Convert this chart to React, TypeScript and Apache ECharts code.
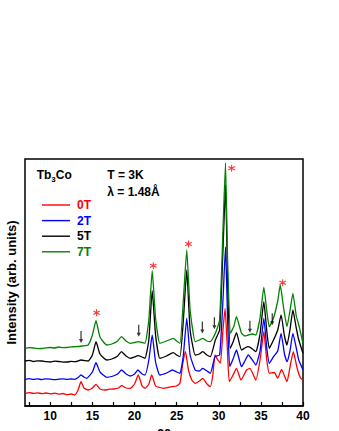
import React, { useEffect, useRef } from "react";
import * as echarts from "echarts";

const seriesNames = ["0T", "2T", "5T", "7T"];
const seriesColors = ["#ff0000", "#0000ff", "#000000", "#008000"];

// [2θ (deg), intensity (arb. units, offset curves)]
const data0T = [
  [7.0, 12.7], [7.5, 13.4], [8.0, 12.6], [8.5, 13.2], [9.0, 12.3], [9.5, 13.0], [10.0, 12.1], [10.5, 12.8],
  [11.0, 11.9], [11.5, 12.5], [12.0, 11.4], [12.5, 12.0], [12.9, 11.0], [13.3, 16], [13.65, 24.3], [14.0, 18],
  [14.5, 16], [15.0, 18], [15.43, 21.7], [15.9, 17], [16.5, 16], [17.0, 16.8], [17.5, 17], [18.1, 18],
  [18.48, 20.3], [19.0, 18], [19.5, 17.7], [20.0, 22], [20.45, 31], [20.9, 20], [21.25, 17.7], [21.7, 22],
  [22.04, 31], [22.5, 20], [23.0, 18.5], [23.4, 17.7], [24.0, 18.6], [24.4, 19.3], [25.0, 20], [25.4, 23],
  [25.7, 41], [26.05, 54.3], [26.4, 36], [26.8, 26], [27.2, 22.7], [27.7, 25], [28.1, 27.7], [28.6, 22],
  [29.0, 19.3], [29.3, 31], [29.55, 51], [29.9, 46], [30.2, 43], [30.5, 76], [30.75, 97.7], [31.0, 61],
  [31.25, 24.3], [31.7, 31], [32.1, 37.7], [32.64, 26], [33.3, 36], [33.7, 37.7], [34.4, 26], [34.9, 46],
  [35.35, 74.3], [35.7, 46], [36.0, 32.7], [36.6, 33.5], [37.0, 27.7], [37.45, 36.7], [38.1, 24.3], [38.5, 41],
  [38.85, 54.3], [39.3, 38], [39.7, 28], [40.0, 26],
];
const data2T = [
  [7.0, 26.7], [7.5, 27.3], [8.0, 26.6], [8.5, 27.1], [9.0, 26.4], [9.5, 27.2], [10.0, 26.9], [10.5, 26.3],
  [11.0, 26.8], [11.5, 27.2], [12.0, 26.6], [12.5, 27.0], [12.9, 26.7], [13.3, 28.5], [13.65, 31], [14.0, 29],
  [14.3, 27.7], [15.0, 34], [15.43, 43.3], [15.9, 34], [16.7, 28.7], [17.3, 29.5], [18.0, 32], [18.45, 36],
  [19.0, 32], [19.5, 30], [20.0, 32], [20.4, 36], [20.9, 32], [21.25, 31], [21.7, 46], [22.1, 71],
  [22.5, 44], [23.0, 31], [23.8, 33], [24.5, 36], [25.0, 34], [25.4, 32.7], [25.8, 51], [26.2, 87.7],
  [26.6, 51], [27.2, 36], [27.7, 35], [28.1, 37.7], [28.6, 35], [29.0, 32.7], [29.55, 49.3], [30.1, 51],
  [30.5, 106], [30.8, 159], [31.05, 86], [31.3, 39.3], [31.7, 47], [32.1, 56], [32.7, 39.3], [33.1, 45],
  [33.5, 51], [34.0, 46], [34.4, 41], [34.9, 55], [35.35, 87.7], [35.7, 58], [36.0, 42.7], [36.5, 49.3],
  [37.0, 55], [37.4, 72.7], [37.8, 52], [38.1, 44.3], [38.45, 55], [38.8, 72.7], [39.2, 58], [39.5, 46],
  [40.0, 36],
];
const data5T = [
  [7.0, 45], [7.5, 45.6], [8.0, 44.5], [8.5, 45.2], [9.0, 45], [9.5, 44.4], [10.0, 44], [10.5, 44.8],
  [11.0, 44.5], [11.5, 43.9], [12.0, 44], [12.5, 44.6], [13.0, 44.3], [13.65, 46], [14.5, 45], [15.0, 51],
  [15.43, 64.3], [15.9, 52], [16.7, 46], [17.3, 47], [18.0, 50], [18.45, 54.3], [19.0, 50], [19.5, 47.7],
  [20.0, 49], [20.4, 50.3], [20.9, 49], [21.25, 47.7], [21.7, 66], [22.1, 115.3], [22.5, 71], [23.0, 47.7],
  [23.8, 50], [24.6, 53.3], [25.0, 51], [25.4, 49.3], [25.8, 86], [26.2, 136], [26.6, 76], [27.2, 51],
  [27.7, 52], [28.1, 54.3], [28.6, 51], [29.0, 49.3], [29.6, 66], [30.1, 76], [30.5, 156], [30.8, 221],
  [31.05, 126], [31.35, 57.7], [31.7, 64], [32.1, 73.3], [32.7, 56], [33.1, 58], [33.5, 59.3], [34.0, 57],
  [34.4, 54.3], [34.9, 72], [35.35, 104.3], [35.7, 75], [36.0, 57.7], [36.5, 66], [37.0, 76], [37.4, 91],
  [37.8, 70], [38.1, 61], [38.45, 76], [38.8, 96], [39.2, 78], [39.5, 66], [40.0, 52.7],
];
const data7T = [
  [7.0, 57.7], [7.5, 58.3], [8.0, 58], [8.5, 57.4], [9.0, 57.5], [9.5, 58.2], [10.0, 58.5], [10.5, 58],
  [11.0, 59], [11.5, 58.4], [12.0, 58.5], [12.5, 59.2], [13.0, 59.3], [13.8, 60], [14.5, 61], [15.0, 71],
  [15.43, 85.3], [15.9, 69], [16.7, 61], [17.3, 62], [18.0, 65], [18.45, 69.3], [19.0, 65], [19.5, 62.7],
  [20.0, 63.5], [20.4, 64.3], [20.9, 63.5], [21.25, 62.7], [21.7, 86], [22.1, 135.3], [22.5, 88], [23.0, 62.7],
  [23.8, 65], [24.6, 67.7], [25.0, 65], [25.4, 62.7], [25.8, 106], [26.2, 156], [26.6, 96], [27.2, 64.3],
  [27.7, 66], [28.1, 67.7], [28.6, 65], [29.0, 64.3], [29.6, 72.7], [30.1, 86], [30.5, 176], [30.8, 243],
  [31.05, 146], [31.4, 72.7], [31.8, 80], [32.1, 89.3], [32.7, 72.7], [33.1, 70], [33.5, 71], [34.0, 72],
  [34.4, 71], [34.9, 88], [35.35, 118.7], [35.7, 95], [36.0, 79.3], [36.5, 88], [37.0, 105], [37.3, 121],
  [37.7, 98], [38.1, 79.3], [38.45, 95], [38.8, 112.7], [39.2, 90], [39.5, 81], [40.0, 62.7],
];

const starPoints = [[15.5, 93.3], [22.23, 140.3], [26.4, 162], [31.53, 237.7], [37.59, 123.3]];
const arrowPoints = [[13.65, 69], [20.5, 75.2], [28.05, 78.5], [29.48, 82.7], [33.7, 79.3], [36.35, 86.7]];

const xTickValues = [7.5, 10, 12.5, 15, 17.5, 20, 22.5, 25, 27.5, 30, 32.5, 35, 37.5, 40];
const xLabelValues = [10, 15, 20, 25, 30, 35, 40];

const FONT = "Liberation Sans";

const STAR_PATH =
  "path://M4.3,0 L5.7,0 L5.7,10 L4.3,10 Z M1.02,8.11 L0.32,6.89 L8.98,1.89 L9.68,3.11 Z M0.32,3.11 L1.02,1.89 L9.68,6.89 L8.98,8.11 Z";
const ARROW_PATH = "path://M1.4,0 L2.6,0 L2.6,8 L4,8 L2,12 L0,8 L1.4,8 Z";

export default function App() {
  const ref = useRef<HTMLDivElement>(null);
  useEffect(() => {
    const chart = echarts.init(ref.current!, null, { renderer: "svg" });
    const allData = [data0T, data2T, data5T, data7T];
    chart.setOption({
      animation: false,
      backgroundColor: "#ffffff",
      textStyle: { fontFamily: FONT },
      grid: {
        left: 25,
        right: 36,
        top: 159,
        bottom: 25,
        outerBoundsMode: "none",
        containLabel: false,
        show: true,
        borderColor: "#000",
        borderWidth: 1.5,
        backgroundColor: "transparent",
      },
      legend: {
        orient: "vertical",
        left: 42,
        top: 198,
        padding: 0,
        icon: "rect",
        itemWidth: 28,
        itemHeight: 1.4,
        itemGap: 1.6,
        data: seriesNames.map((n, i) => ({
          name: n,
          textStyle: { color: seriesColors[i] },
        })),
        textStyle: {
          fontFamily: FONT,
          fontWeight: "bold",
          fontSize: 12,
          lineHeight: 14,
          padding: [0, 0, 0, 2],
        },
      },
      xAxis: {
        type: "value",
        min: 7,
        max: 40,
        name: "2θ",
        nameLocation: "middle",
        nameGap: 15,
        nameTextStyle: { fontFamily: FONT, fontWeight: "bold", fontSize: 13, color: "#000" },
        axisLine: { show: true, lineStyle: { color: "#000", width: 1.5 } },
        axisTick: {
          show: true,
          inside: true,
          length: 4,
          customValues: xTickValues,
          lineStyle: { color: "#000", width: 1.2 },
        },
        axisLabel: {
          show: true,
          customValues: xLabelValues,
          margin: 4,
          fontFamily: FONT,
          fontWeight: "bold",
          fontSize: 12,
          color: "#000",
        },
        splitLine: { show: false },
      },
      yAxis: {
        type: "value",
        min: 0,
        max: 247,
        name: "Intensity (arb. units)",
        nameLocation: "middle",
        nameGap: 7,
        nameTextStyle: { fontFamily: FONT, fontWeight: "bold", fontSize: 13, color: "#000" },
        axisLine: { show: false },
        axisTick: { show: false },
        axisLabel: { show: false },
        splitLine: { show: false },
      },
      graphic: [
        { type: "text", left: 36.7, top: 169, style: { text: "Tb", font: `bold 12px "${FONT}"`, fill: "#000" } },
        { type: "text", left: 51.2, top: 175, style: { text: "3", font: `bold 8px "${FONT}"`, fill: "#000" } },
        { type: "text", left: 55.8, top: 169, style: { text: "Co", font: `bold 12px "${FONT}"`, fill: "#000" } },
        { type: "text", left: 107.3, top: 169, style: { text: "T = 3K", font: `bold 12px "${FONT}"`, fill: "#000" } },
        { type: "text", left: 107.3, top: 185.5, style: { text: "λ = 1.48Å", font: `bold 12px "${FONT}"`, fill: "#000" } },
      ],
      series: [
        ...seriesNames.map((n, i) => ({
          name: n,
          type: "line",
          data: allData[i],
          showSymbol: false,
          symbol: "none",
          smooth: 0.15,
          lineStyle: { color: seriesColors[i], width: 1.3 },
          itemStyle: { color: seriesColors[i] },
          z: 2 + i,
        })),
        {
          name: "stars",
          type: "scatter",
          data: starPoints,
          symbol: STAR_PATH,
          symbolSize: 7,
          itemStyle: { color: "#ff0000" },
          z: 10,
        },
        {
          name: "arrows",
          type: "scatter",
          data: arrowPoints,
          symbol: ARROW_PATH,
          symbolSize: [4, 12],
          itemStyle: { color: "#000" },
          z: 10,
        },
      ],
    });
    return () => chart.dispose();
  }, []);
  return (
    <div
      ref={ref}
      style={{ position: "fixed", left: 0, top: 0, width: 339, height: 431, background: "#fff" }}
    />
  );
}
